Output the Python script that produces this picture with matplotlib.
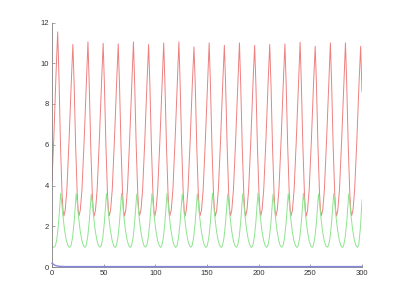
import matplotlib
matplotlib.use("Agg")
import matplotlib.pyplot as plt

# ---- data ----
red_t = [
    0.0, 1.8, 3.9, 5.5, 6.7, 8.2, 9.7, 10.7, 11.5,
    12.8, 14.4, 16.5, 18.6, 20.2, 21.4, 22.9, 24.4, 25.4, 26.2,
    27.4, 29.0, 31.1, 33.2, 34.8, 36.0, 37.5, 39.0, 40.0, 40.8,
    42.1, 43.7, 45.8, 47.9, 49.5, 50.7, 52.2, 53.7, 54.7, 55.5,
    56.7, 58.3, 60.4, 62.5, 64.1, 65.3, 66.8, 68.3, 69.3, 70.1,
    71.4, 73.0, 75.1, 77.2, 78.8, 80.0, 81.5, 83.0, 84.0, 84.8,
    86.1, 87.7, 89.8, 91.9, 93.5, 94.7, 96.2, 97.7, 98.7, 99.5,
    100.7, 102.3, 104.4, 106.5, 108.1, 109.3, 110.8, 112.3, 113.3, 114.1,
    115.4, 117.0, 119.1, 121.2, 122.8, 124.0, 125.5, 127.0, 128.0, 128.8,
    130.0, 131.6, 133.7, 135.8, 137.4, 138.6, 140.1, 141.6, 142.6, 143.4,
    144.7, 146.3, 148.4, 150.5, 152.1, 153.3, 154.8, 156.3, 157.3, 158.1,
    159.4, 161.0, 163.1, 165.2, 166.8, 168.0, 169.5, 171.0, 172.0, 172.8,
    174.0, 175.6, 177.7, 179.8, 181.4, 182.6, 184.1, 185.6, 186.6, 187.4,
    188.7, 190.3, 192.4, 194.5, 196.1, 197.3, 198.8, 200.3, 201.3, 202.1,
    203.3, 204.9, 207.0, 209.1, 210.7, 211.9, 213.4, 214.9, 215.9, 216.7,
    218.0, 219.6, 221.7, 223.8, 225.4, 226.6, 228.1, 229.6, 230.6, 231.4,
    232.7, 234.3, 236.4, 238.5, 240.1, 241.3, 242.8, 244.3, 245.3, 246.1,
    247.3, 248.9, 251.0, 253.1, 254.7, 255.9, 257.4, 258.9, 259.9, 260.7,
    262.0, 263.6, 265.7, 267.8, 269.4, 270.6, 272.1, 273.6, 274.6, 275.4,
    276.6, 278.2, 280.3, 282.4, 284.0, 285.2, 286.7, 288.2, 289.2, 290.0,
    291.3, 292.9, 295.0, 297.1, 298.7, 300.0,
]
red_v = [
    4.2, 6.4, 9.5, 11.54, 9.4, 6.0, 3.6, 2.75, 2.5,
    2.8, 3.8, 6.2, 9.0, 10.92, 9.0, 5.9, 3.6, 2.75, 2.52,
    2.8, 3.8, 6.2, 9.0, 11.05, 9.0, 5.9, 3.6, 2.75, 2.5,
    2.8, 3.8, 6.2, 9.0, 10.98, 9.0, 5.9, 3.6, 2.75, 2.52,
    2.8, 3.8, 6.2, 9.0, 10.95, 9.0, 5.9, 3.6, 2.75, 2.5,
    2.8, 3.8, 6.2, 9.0, 11.05, 9.0, 5.9, 3.6, 2.75, 2.53,
    2.8, 3.8, 6.2, 9.0, 10.92, 9.0, 5.9, 3.6, 2.75, 2.5,
    2.8, 3.8, 6.2, 9.0, 11.0, 9.0, 5.9, 3.6, 2.75, 2.52,
    2.8, 3.8, 6.2, 9.0, 11.05, 9.0, 5.9, 3.6, 2.75, 2.5,
    2.8, 3.8, 6.2, 9.0, 10.8, 9.0, 5.9, 3.6, 2.75, 2.53,
    2.8, 3.8, 6.2, 9.0, 11.0, 9.0, 5.9, 3.6, 2.75, 2.5,
    2.8, 3.8, 6.2, 9.0, 10.88, 9.0, 5.9, 3.6, 2.75, 2.52,
    2.8, 3.8, 6.2, 9.0, 11.0, 9.0, 5.9, 3.6, 2.75, 2.5,
    2.8, 3.8, 6.2, 9.0, 10.88, 9.0, 5.9, 3.6, 2.75, 2.53,
    2.8, 3.8, 6.2, 9.0, 10.92, 9.0, 5.9, 3.6, 2.75, 2.5,
    2.8, 3.8, 6.2, 9.0, 10.95, 9.0, 5.9, 3.6, 2.75, 2.52,
    2.8, 3.8, 6.2, 9.0, 11.03, 9.0, 5.9, 3.6, 2.75, 2.5,
    2.8, 3.8, 6.2, 9.0, 10.83, 9.0, 5.9, 3.6, 2.75, 2.53,
    2.8, 3.8, 6.2, 9.0, 11.0, 9.0, 5.9, 3.6, 2.75, 2.5,
    2.8, 3.8, 6.2, 9.0, 11.0, 9.0, 5.9, 3.6, 2.75, 2.52,
    2.8, 3.8, 6.2, 9.0, 10.83, 8.6,
]

green_t = [
    0.0, 1.5, 3.4, 4.9, 6.4, 7.5, 8.4, 9.3, 10.6, 12.2, 13.9, 15.4, 16.8,
    18.4, 19.9, 21.4, 22.5, 23.4, 24.3, 25.6, 27.2, 28.9, 30.4, 31.8,
    33.0, 34.5, 36.0, 37.1, 38.0, 38.9, 40.2, 41.8, 43.5, 45.0, 46.4,
    47.7, 49.2, 50.7, 51.8, 52.7, 53.6, 54.9, 56.5, 58.2, 59.7, 61.1,
    62.3, 63.8, 65.3, 66.4, 67.3, 68.2, 69.5, 71.1, 72.8, 74.3, 75.7,
    77.0, 78.5, 80.0, 81.1, 82.0, 82.9, 84.2, 85.8, 87.5, 89.0, 90.4,
    91.7, 93.2, 94.7, 95.8, 96.7, 97.6, 98.9, 100.5, 102.2, 103.7, 105.1,
    106.3, 107.8, 109.3, 110.4, 111.3, 112.2, 113.5, 115.1, 116.8, 118.3, 119.7,
    121.0, 122.5, 124.0, 125.1, 126.0, 126.9, 128.2, 129.8, 131.5, 133.0, 134.4,
    135.6, 137.1, 138.6, 139.7, 140.6, 141.5, 142.8, 144.4, 146.1, 147.6, 149.0,
    150.3, 151.8, 153.3, 154.4, 155.3, 156.2, 157.5, 159.1, 160.8, 162.3, 163.7,
    165.0, 166.5, 168.0, 169.1, 170.0, 170.9, 172.2, 173.8, 175.5, 177.0, 178.4,
    179.6, 181.1, 182.6, 183.7, 184.6, 185.5, 186.8, 188.4, 190.1, 191.6, 193.0,
    194.3, 195.8, 197.3, 198.4, 199.3, 200.2, 201.5, 203.1, 204.8, 206.3, 207.7,
    208.9, 210.4, 211.9, 213.0, 213.9, 214.8, 216.1, 217.7, 219.4, 220.9, 222.3,
    223.6, 225.1, 226.6, 227.7, 228.6, 229.5, 230.8, 232.4, 234.1, 235.6, 237.0,
    238.3, 239.8, 241.3, 242.4, 243.3, 244.2, 245.5, 247.1, 248.8, 250.3, 251.7,
    252.9, 254.4, 255.9, 257.0, 257.9, 258.8, 260.1, 261.7, 263.4, 264.9, 266.3,
    267.6, 269.1, 270.6, 271.7, 272.6, 273.5, 274.8, 276.4, 278.1, 279.6, 281.0,
    282.2, 283.7, 285.2, 286.3, 287.2, 288.1, 289.4, 291.0, 292.7, 294.2, 295.6,
    296.9, 298.6, 300.0,
]
green_v = [
    0.92, 0.97, 1.05, 1.45, 2.2, 3.0, 3.62, 3.2, 2.5, 1.8, 1.3, 1.05, 0.96,
    1.05, 1.45, 2.2, 3.0, 3.6, 3.2, 2.5, 1.8, 1.3, 1.05, 0.96,
    1.05, 1.45, 2.2, 3.0, 3.58, 3.2, 2.5, 1.8, 1.3, 1.05, 0.97,
    1.05, 1.45, 2.2, 3.0, 3.6, 3.2, 2.5, 1.8, 1.3, 1.05, 0.96,
    1.05, 1.45, 2.2, 3.0, 3.62, 3.2, 2.5, 1.8, 1.3, 1.05, 0.96,
    1.05, 1.45, 2.2, 3.0, 3.58, 3.2, 2.5, 1.8, 1.3, 1.05, 0.97,
    1.05, 1.45, 2.2, 3.0, 3.6, 3.2, 2.5, 1.8, 1.3, 1.05, 0.96,
    1.05, 1.45, 2.2, 3.0, 3.62, 3.2, 2.5, 1.8, 1.3, 1.05, 0.96,
    1.05, 1.45, 2.2, 3.0, 3.58, 3.2, 2.5, 1.8, 1.3, 1.05, 0.97,
    1.05, 1.45, 2.2, 3.0, 3.6, 3.2, 2.5, 1.8, 1.3, 1.05, 0.96,
    1.05, 1.45, 2.2, 3.0, 3.62, 3.2, 2.5, 1.8, 1.3, 1.05, 0.96,
    1.05, 1.45, 2.2, 3.0, 3.58, 3.2, 2.5, 1.8, 1.3, 1.05, 0.97,
    1.05, 1.45, 2.2, 3.0, 3.6, 3.2, 2.5, 1.8, 1.3, 1.05, 0.96,
    1.05, 1.45, 2.2, 3.0, 3.62, 3.2, 2.5, 1.8, 1.3, 1.05, 0.96,
    1.05, 1.45, 2.2, 3.0, 3.58, 3.2, 2.5, 1.8, 1.3, 1.05, 0.97,
    1.05, 1.45, 2.2, 3.0, 3.6, 3.2, 2.5, 1.8, 1.3, 1.05, 0.96,
    1.05, 1.45, 2.2, 3.0, 3.62, 3.2, 2.5, 1.8, 1.3, 1.05, 0.96,
    1.05, 1.45, 2.2, 3.0, 3.58, 3.2, 2.5, 1.8, 1.3, 1.05, 0.97,
    1.05, 1.45, 2.2, 3.0, 3.6, 3.2, 2.5, 1.8, 1.3, 1.05, 0.96,
    1.05, 1.45, 2.2, 3.0, 3.6, 3.2, 2.5, 1.8, 1.3, 1.05, 0.96,
    1.1, 2.0, 3.3,
]

blue_t = [0.0, 1.0, 2.0, 3.0, 5.0, 8.0, 12.0, 50.0, 100.0, 150.0, 200.0, 250.0, 300.0]
blue_v = [0.18, 0.15, 0.11, 0.08, 0.05, 0.03, 0.02, 0.02, 0.02, 0.02, 0.02, 0.02, 0.02]

x_ticks = [0, 50, 100, 150, 200, 250, 300]
y_ticks = [0, 2, 4, 6, 8, 10, 12]

# ---- figure ----
fig = plt.figure(figsize=(4, 3), dpi=100)
ax = fig.add_axes([0.13, 0.11, 0.775, 0.815])

ax.plot(red_t, red_v, color="#ee8080", lw=0.7)
ax.plot(green_t, green_v, color="#8fe48f", lw=0.7)
ax.plot(blue_t, blue_v, color="#8585e0", lw=1.0, zorder=5, clip_on=False)

ax.set_xlim(0, 300)
ax.set_ylim(0, 12)
ax.set_xticks(x_ticks)
ax.set_yticks(y_ticks)
ax.set_xticklabels([str(v) for v in x_ticks])
ax.set_yticklabels([str(v) for v in y_ticks])

for s in ("top", "right"):
    ax.spines[s].set_visible(False)
for s in ("left", "bottom"):
    ax.spines[s].set_color("#808080")
    ax.spines[s].set_linewidth(0.6)

ax.tick_params(direction="in", length=2.5, width=0.5, colors="#808080",
               labelsize=5.5, labelcolor="#333333", pad=2)
for lbl in ax.get_xticklabels() + ax.get_yticklabels():
    lbl.set_fontfamily("Liberation Sans")

fig.savefig("out.png", dpi=100)
